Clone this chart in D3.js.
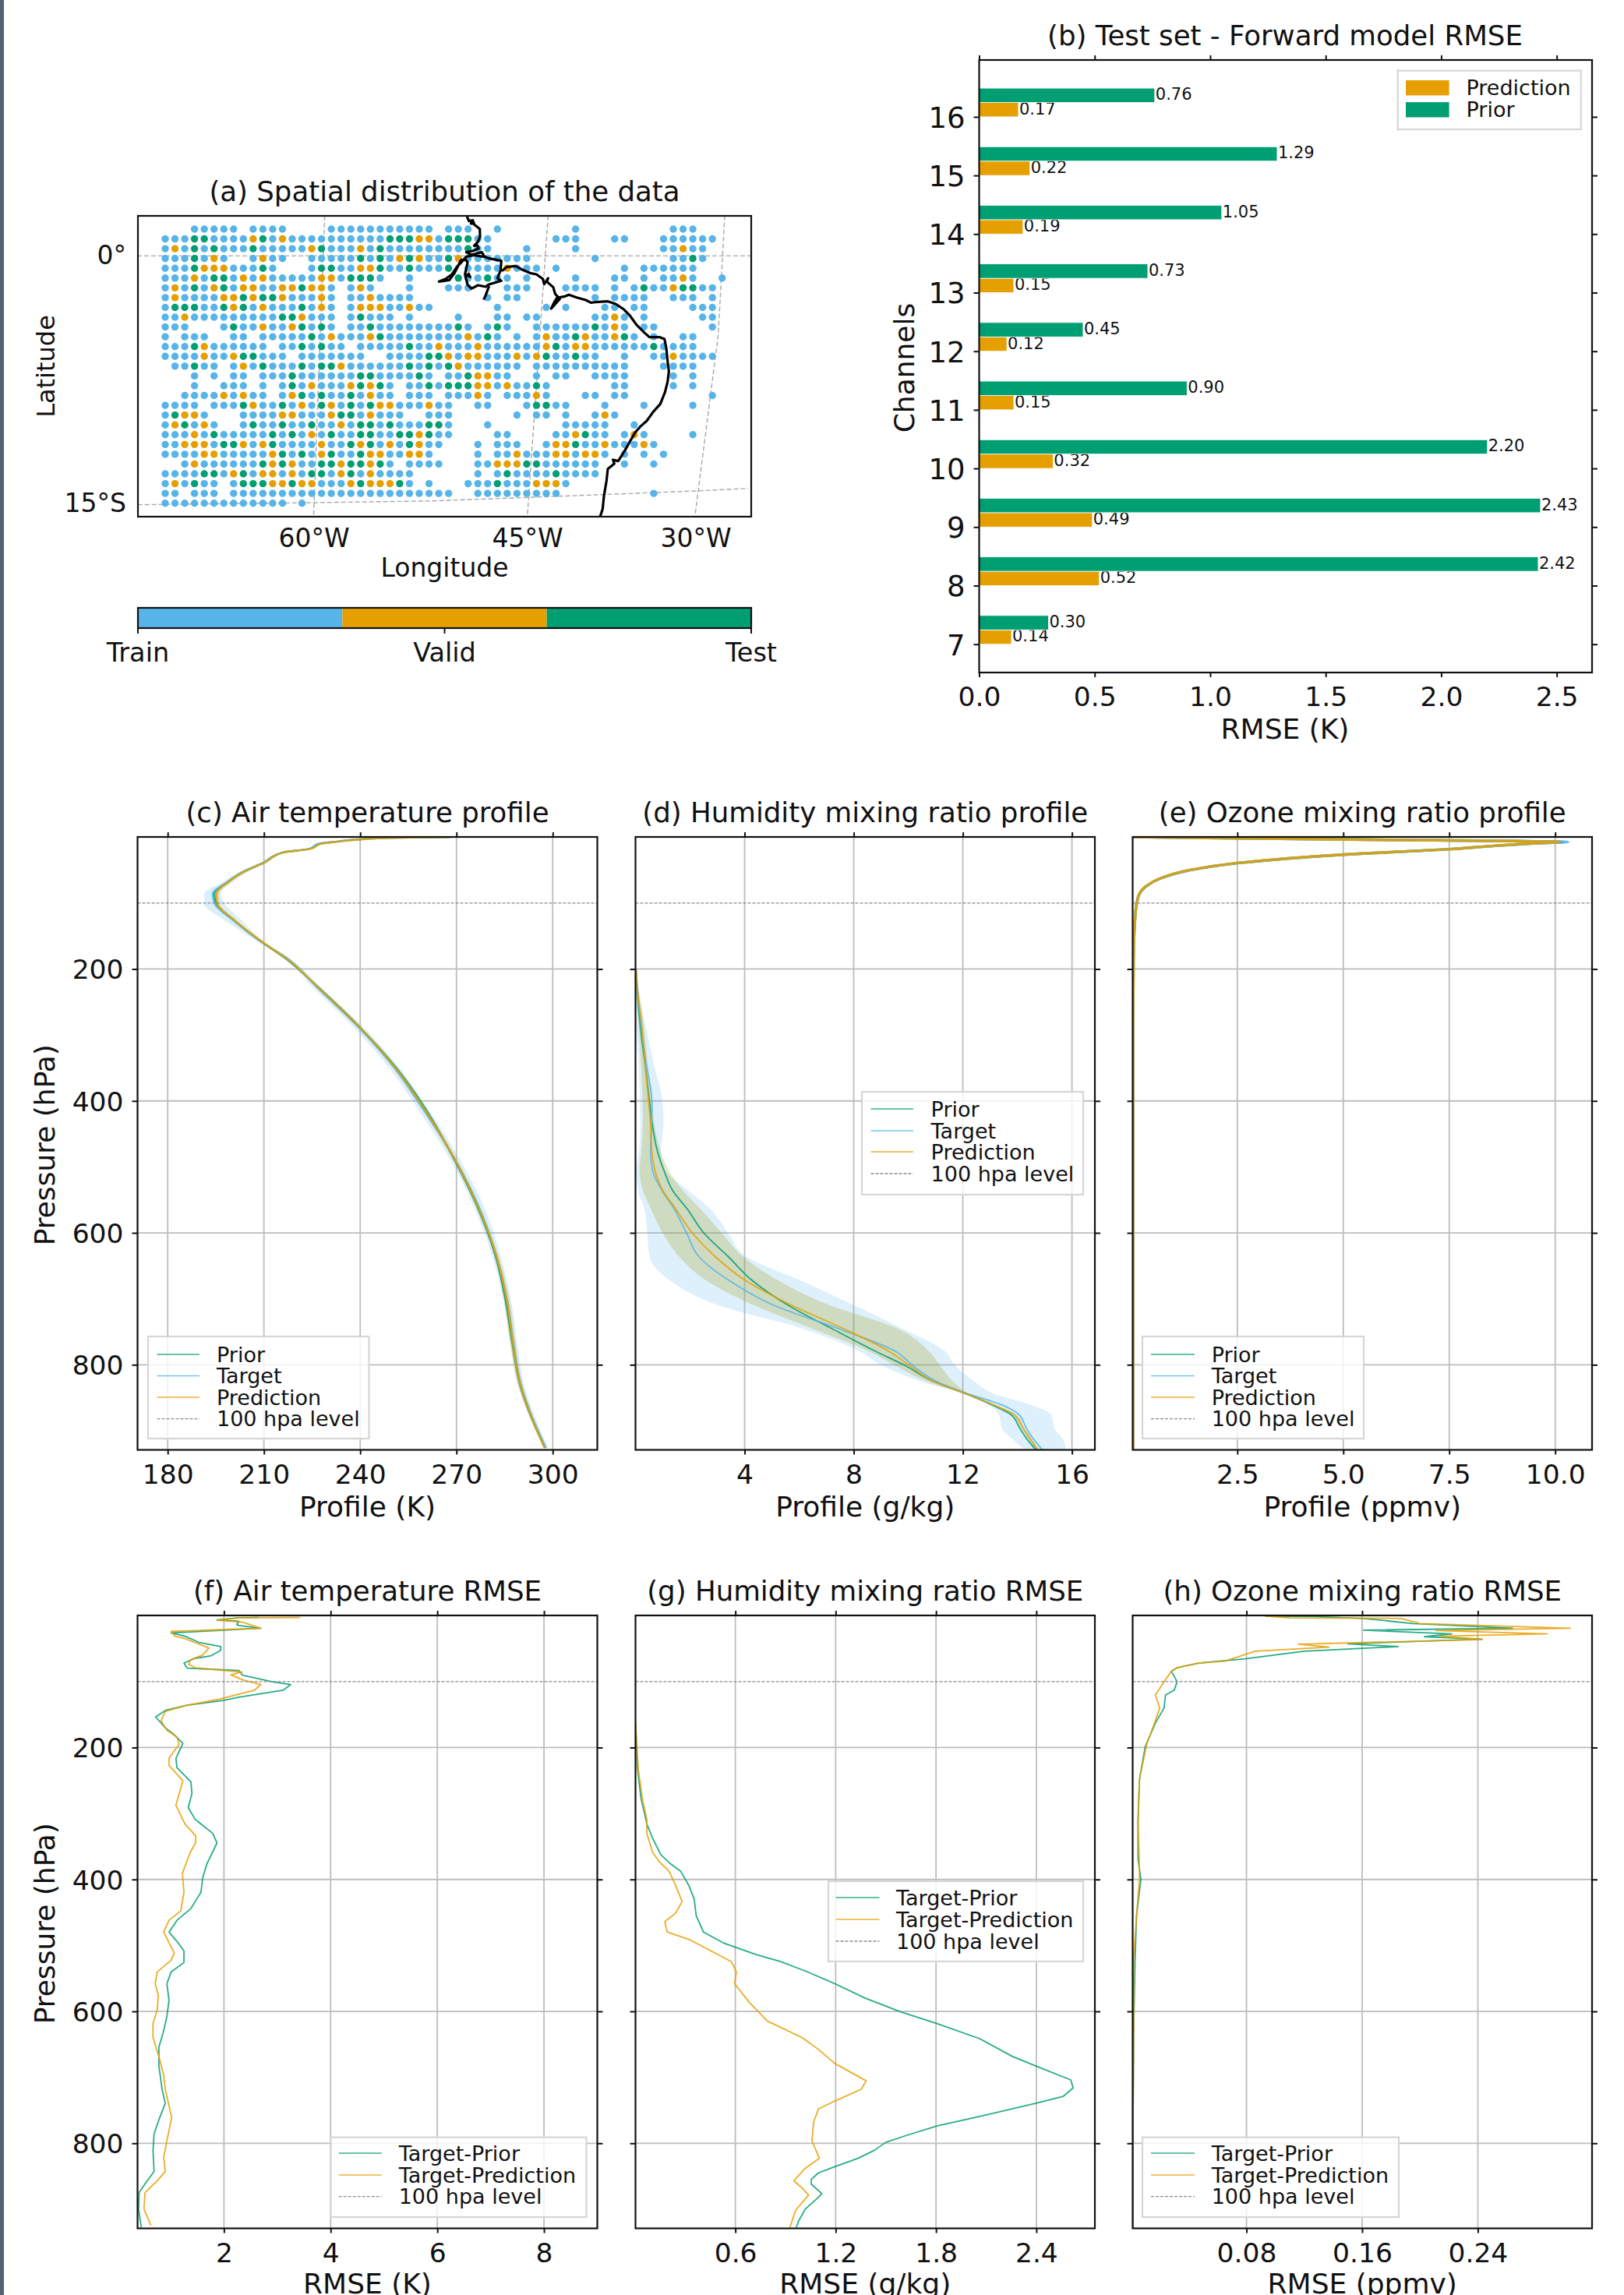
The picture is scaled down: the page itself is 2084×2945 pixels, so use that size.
<!DOCTYPE html>
<html><head><meta charset="utf-8">
<script src="https://cdn.jsdelivr.net/npm/d3@7/dist/d3.min.js"></script>
<style>html,body{margin:0;padding:0;background:#fff}svg{display:block}text{font-family:"DejaVu Sans",sans-serif;fill:#111}</style>
</head><body><script>
// ---------- palette
const GREEN="#009E73",BLUE="#56B4E9",ORANGE="#E69F00";
// ---------- (a) spatial split: one string per grid row, b=train o=valid g=test
const splitRows=[
"...bbbbb.bbbb....bbbbbbbbbbb.bbb..b.......b.........bbb...",
"bbbggbbbbogbobbbbbbbbbbgggoobgggbb......bbb...bb...bbbbbb.",
"bobgbgbbbgbbbbbogbbbobgbbbbbbbbgbb...b....b........bbobb..",
"bbbgbob..bobb..bbbbbgbgbogobbgobbbbbbb......b.......bbgb..",
"bbbgooobbbgb...bggbboogbbgbbbg.bbbbobbb.b......b.bbbbbb...",
"bbbobggbob"+"obbbbboobg"+"ggb..b...."+"gbbgbb.b.."+"..b...bb.b"+".bbob..b",
"bobgbogboo"+"bboogoob.b"+"ob...b...b"+"bb...bbb.."+".bbbb.b.bg"+"bboggbb.",
"bobbbboogo"+"ggobbbob.b"+"bobbbb...."+"...b.bb..."+"....b.bbbb"+"..bbb.b.",
"bgggbbgogb"+"obbbgbob.b"+"ooobbobb.."+"....b....b"+".b...bb.bb"+"....bbb.",
"bbobbbbbbb"+"bbggobbb.b"+"gbbb.b...."+"b...bb.bb."+"....bbob.b"+".....bb.",
"bbb...bgbb"+"obbogbgb.b"+"bgbbbbbbbb"+"gb.bgb..bb"+"bbbbgbob.b"+"b.....b.",
"b.bbb..bb."+"bbbbbgbobb"+"bogbbbbbbb"+"bobgb.b.bo"+"bbgobbogb."+"b..bb...",
"bbbgobbbbb"+"b.bbgbgbb."+"bbbbbgbbob"+"bbobbbbbbo"+"gboobbbbbb"+"gbbbb...",
"bbbbobbogg"+"bbb.bbbbbb"+"b..bbbbggo"+"boobbbobog"+"bbgbb..b.."+"bbobbbb.",
".bbgbb.bob"+"gbbbgbggob"+"bbbbbgbgbg"+"obbbbbb.bb"+"bbbbbbbb.."+".bbbb...",
"...b.b.bb."+"bbbgbbbbbb"+"ggbbbbgb.b"+"bgoobb..b."+"bb..bbbb.."+"..b.b...",
"...b..bbb."+"b.bgbobbbo"+"gogb.bbgbg"+"ggoobobbgb"+"......bb.."+"..b.b...",
"..bbbbobob"+"b.bogbgbbg"+"bobb.bbb.b"+"bbob.bbbob"+"...bb.bb.."+"......b.",
"bbbb.bbbgo"+"bbgbobgobg"+"bgoobbbobb"+"..bb...bgg"+"bb...b...b"+"....b...",
"bgoob...bb"+"bboobbbogg"+"bobbb..bbb"+"......b.bb"+".b..bob..."+"........",
"bogbob..bg"+"bbgbbgbbob"+"ggbgbbbggb"+"...b......"+".bbbbb..b."+"........",
"bbbobgbbbb"+"bgbgbobgbb"+"ggbbggogbb"+"....bb...."+"bbogbb.bob"+"....b...",
"bbooobggob"+"ogbbbbobbg"+"ogbobgobb."+"..b.bbb..b"+"oogbbobbbo"+"b.......",
"bbbboobbbb"+"bogbgbogbb"+"goobboob.."+"..b.bbobbb"+"ooboob.b.b"+".b......",
"..bobbbbbb"+"gogobbggog"+"gogb.bbbb."+"..bboooggb"+"bbbbb..b.."+"b.......",
"bbbbggbogb"+"oobobggbog"+"bobbbb...."+"..b.bgbbbb"+"gbbbb....."+"........",
"bobgbb.bgg"+"googoobbbo"+"gooogb.b.."+".bbbgbbboo"+"ob........"+"........",
"bb.bbb.bbb"+"bbbbbbbbbb"+"bbbbbbbbbb"+"..bbbbbbbb"+"b........."+"b.......",
"bbbbbbbbbb"+"bbb.b....."+".........."+".........."+".........."+"........"
];
const splitLabels=["Train","Valid","Test"];
// coastline and graticule digitised in map units
const coastMain=[[118,24],[125,41],[140,38],[145,51],[133,51],[135,44],[150,58],[167,71],[168,101],[160,121],[145,136],[157,134],[163,146],[140,156],[115,161],[135,171],[175,161],[185,178],[200,184],[250,194],[247,231],[235,261],[250,271],[200,286],[190,294],[160,288],[135,301],[120,286],[110,246],[120,201],[115,191],[95,191],[85,211],[70,241],[50,268],[10,274],[35,264],[60,246],[80,216],[95,201],[115,178],[145,172],[190,180]];
const coastDelta=[[110,246],[130,256],[122,240]];
const coastSpur=[[203,291],[190,326],[182,344]];
const coastEast=[[247,231],[255,231],[270,218],[305,214],[330,228],[360,241],[385,246],[410,264],[415,284],[430,261],[425,274],[450,296],[457,321],[475,341],[442,378],[455,351],[465,336],[495,331],[510,325],[540,335],[575,345],[595,355],[625,352],[660,350],[690,360],[720,380],[745,405],[770,440],[800,470],[820,488],[860,488],[878,495],[885,530],[890,580],[895,620],[890,660],[880,700],[862,745],[835,775],[810,810],[785,832],[765,855],[745,890],[725,925],[700,965],[680,960],[685,975],[660,995],[655,1040],[645,1100],[640,1150],[630,1180]];
const gratParallels=[[[-1152,175],[1210,175]],[[-1150,1133],[-470,1125],[0,1118],[350,1105],[1000,1080],[1200,1070]]];
const gratMeridians=[[[-430,20],[-473,1180]],[[430,20],[350,1180]],[[1110,20],[1085,480],[995,1180]]];
const mapLonLabels=["60°W","45°W","30°W"];
const mapLatLabels=["0°","15°S"];

// ---------- (b) forward model RMSE
const channels=[7,8,9,10,11,12,13,14,15,16];
const rmsePrediction=[0.14,0.52,0.49,0.32,0.15,0.12,0.15,0.19,0.22,0.17];
const rmsePrior=[0.30,2.42,2.43,2.20,0.90,0.45,0.73,1.05,1.29,0.76];

// ---------- (c) air temperature profile
const tempP=[0,1,4,7,10,18,23,39,52,68,86,101,126,159,184,228,289,354,405,495,557,637,702,767,832,868,926];
const tempPred=[269,251.6,239,233,228,224.4,216.3,210,204,199,195.2,195.5,200.8,209.5,217,226.9,239.9,251.6,259,270.2,276.4,282.6,285.7,287.6,290,292.5,297.5];
const tempPrior=[268,251,238.6,232.6,227.6,224,216,209.8,203.8,198.7,194.5,195.2,200.6,209.3,216.7,227,240,251.9,259.4,270,276.2,282.3,285.3,287.4,289.9,292.4,297.6];
const tempTarget=[268,250.5,238,232,227,224,216.2,209.9,203.9,198.8,194,194.6,200.4,209.2,217.3,226.6,239.6,251.3,258.6,270.3,276.7,282.6,285.8,287.8,290.2,292.7,297.9];
const tempTargetSd=[0.6,0.6,0.6,0.6,0.6,0.7,0.8,1.1,1.4,1.6,2.6,3.2,2.6,1.0,0.9,1.3,1.5,1.6,1.6,1.5,1.6,1.3,1.2,1.1,1.0,0.9,0.7];
const tempPredSd=[0.4,0.4,0.4,0.4,0.4,0.4,0.4,0.5,0.6,0.7,0.8,0.8,0.7,0.5,0.5,0.5,0.6,0.6,0.6,0.6,0.6,0.7,0.9,0.9,0.7,0.6,0.5];

// ---------- (d) humidity profile
const humP=[200,238,289,347,400,434,477,506,535,564,600,636,673,709,745,781,800,825,843,861,875,897,912,930];
const humPrior=[.02,.07,.18,.36,.51,.61,.81,1.05,1.35,1.90,2.50,3.40,4.30,5.56,7.19,8.87,9.83,10.91,12.05,13.08,13.74,14.10,14.34,14.70];
const humTarget=[.02,.09,.21,.41,.60,.59,.55,.63,.96,1.42,1.87,2.32,3.46,5.02,7.43,9.59,10.13,11.03,12.11,13.44,14.04,14.34,14.58,14.94];
const humPred=[.02,.09,.24,.36,.48,.55,.60,.72,.99,1.48,2.08,2.92,4.06,5.68,7.61,9.35,10.01,10.91,12.05,13.14,13.86,14.22,14.46,14.76];
const humTargetLo=[.02,.02,.04,.12,.16,.18,.13,.03,.09,.33,.43,.51,1.29,2.98,6.10,8.27,8.99,10.43,11.93,12.96,13.32,13.44,13.80,14.28];
const humTargetHi=[.02,.15,.39,.69,.99,1.03,.93,1.11,1.90,2.74,3.40,4.06,6.10,7.97,9.77,11.39,11.69,12.42,13.08,14.52,15.24,15.36,15.66,15.78];
const humPredLo=[.02,.04,.12,.21,.26,.27,.21,.15,.27,.57,.99,1.60,2.62,4.30,6.47,8.63,9.47,10.67,11.99,13.14,13.74,14.16,14.40,14.70];
const humPredHi=[.02,.13,.31,.45,.63,.69,.93,1.23,1.72,2.38,3.16,3.94,5.26,7.07,9.59,10.79,11.15,11.63,12.17,13.20,13.92,14.28,14.52,14.82];

// ---------- (e) ozone profile
const ozoneP=[0,3.7,7.4,9,13,18.3,26.3,39.3,50.2,63,75,85,99,130,188,300,500,700,929];
const ozonePred=[.05,5.2,10.1,9.6,8.6,7.52,5.03,2.5,1.36,.66,.33,.19,.13,.08,.05,.04,.04,.04,.04];
const ozonePrior=[.05,5.25,10.2,9.65,8.62,7.5,5.05,2.52,1.37,.67,.34,.2,.13,.08,.05,.04,.04,.04,.04];
const ozoneTarget=[.05,5.2,10.3,9.7,8.65,7.55,5.07,2.53,1.38,.67,.34,.2,.13,.08,.05,.04,.04,.04,.04];
const ozoneTargetSd=[0,.1,.15,.1,.08,.07,.06,.05,.05,.04,.03,.02,.02,.01,.01,.01,.01,.01,.01];

// ---------- (f) air temperature RMSE
const trmsePriorP=[2.8,3.6,6.4,8.5,13.5,15,19.2,26.3,31.3,40.6,47,52.7,61.2,64.8,71.9,79.7,83.3,90.4,100.4,104.6,113.2,123.8,128.8,135.9,143.8,153.7,170.1,181.5,193.6,216.4,230.6,252,269.8,291,308.9,330.2,344.5,376.5,397.9,419.2,444.1,461.9,479.7,494,508.2,526,540.2,558,582.9,607.8,632.7,654.1,682.6,718.1,739.5,764.4,785.8,810.7,842.7,856.9,874.7,899.6,928.1];
const trmsePrior=[2.65,2.25,1.87,2.28,2.24,2.28,2.69,1.01,1.27,1.53,1.94,1.94,1.75,1.46,1.25,1.31,2.28,2.35,2.91,3.25,3.11,2.28,1.98,1.31,.90,.72,.90,1.08,1.23,1.10,1.12,1.38,1.40,1.33,1.46,1.79,1.87,1.68,1.60,1.57,1.38,1.12,.97,1.12,1.25,1.25,1.01,.93,.97,.93,.86,.78,.78,.84,.90,.78,.69,.67,.69,.56,.41,.40,.45];
const trmsePredP=[2.8,3.6,7,10,19.2,24,31.3,34.9,42,49.1,59.8,66.9,74,79,84.7,85.6,89.7,97.5,104.6,113.2,127.4,135.9,145.2,159.4,173.7,184.3,195,216.4,227,250.5,287.5,316,333.8,344.5,358.7,390.7,419.2,447.7,461.9,479.7,511.7,522.4,540.2,558,575.8,597.2,618.5,639.9,668.3,696.8,718.1,760.9,796.4,821.3,842.7,856.9,874.7,899.6,924.6];
const trmsePred=[3.43,2.28,1.87,2.35,2.69,1.01,1.08,1.27,1.49,1.72,1.60,1.37,1.34,1.46,2.20,2.34,2.13,2.35,2.69,2.57,1.87,1.31,.90,.82,.93,1.12,1.16,.97,.97,1.23,1.10,1.27,1.47,1.47,1.37,1.22,1.25,1.19,.97,.87,1.07,1.01,.75,.71,.77,.75,.67,.67,.78,.87,.90,1.02,.93,.87,.90,.75,.52,.50,.63];

// ---------- (g) humidity RMSE
const hrmsePriorP=[163,234.2,276.9,316,337.4,362.3,376.5,387.2,408.5,429.9,454.8,479.7,496.1,513.9,524.6,538.8,558,579.4,600.7,618.5,641.3,668.3,682.6,703.9,716,728.8,739.5,759.4,773.7,789.3,798.6,810.7,822.8,835.6,844.8,854.8,861.9,876.2,881.9,899.6,917.4,928.1];
const hrmsePrior=[.003,.016,.036,.071,.105,.154,.213,.272,.321,.354,.366,.409,.527,.724,.871,1.019,1.195,1.372,1.588,1.805,2.06,2.257,2.394,2.606,2.62,2.561,2.394,2.06,1.805,1.608,1.50,1.431,1.333,1.195,1.097,1.054,1.054,1.117,1.097,1.019,.979,.964];
const hrmsePredP=[163,234.2,280.4,308.9,330.2,358.7,372.9,387.2,408.5,433.5,451.3,464.1,479.7,491.8,524.6,540.2,558,586.5,614.9,639.9,657.7,679,705.3,718.1,735.9,748,768,796.4,822.8,837.7,856.9,867.6,878.3,901.8,928.1];
const hrmsePred=[.003,.02,.046,.071,.071,.105,.144,.203,.242,.282,.242,.178,.193,.331,.576,.606,.596,.684,.793,1.0,1.097,1.195,1.382,1.353,1.195,1.097,1.068,1.058,1.103,1.019,.95,.999,1.038,.96,.926];

// ---------- (h) ozone RMSE
const ormsePriorP=[.7,1.4,4.3,12.1,12.6,19.2,22.1,27.8,32,35.6,42.7,47,54.1,65.5,71.9,79,84.7,91.8,100.4,113.2,120.3,140.2,163,198.6,248.4,312.5,369.4,399.3,454.8,518.9,625.6,796.4,928.1];
const ormsePrior=[.093,.127,.161,.195,.201,.264,.161,.222,.203,.243,.15,.185,.12,.079,.047,.032,.028,.03,.032,.03,.024,.023,.017,.01,.006,.005,.005,.007,.004,.003,.002,.0015,.0015];
const ormsePredP=[.7,3.5,4.3,12,19.2,22.8,27.8,31.3,36.3,43.4,47.7,54.1,61.9,69,71.9,79,84.7,100.4,120.3,140.2,159.4,195,248.4,312.5,369.4,399.3,454.8,518.9,625.6,796.4,928.1];
const ormsePred=[.093,.11,.187,.2,.304,.211,.288,.214,.243,.116,.137,.086,.075,.065,.047,.032,.028,.023,.017,.02,.017,.011,.006,.005,.0058,.006,.004,.002,.002,.0015,.0013];

// ---------- tick values
const pressureTicks=[200,400,600,800];
const tempTicks=[180,210,240,270,300];
const humTicks=[4,8,12,16];
const ozoneTicks=[2.5,5,7.5,10];
const trmseTicks=[2,4,6,8];
const hrmseTicks=[.6,1.2,1.8,2.4];
const ormseTicks=[.08,.16,.24];
const barTicks=[0,.5,1,1.5,2,2.5];

const W=2084,H=2945,TICK=34.5,LABEL=36,TITLE=35.6,LEG=27;
const svg=d3.select("body").append("svg").attr("width",W).attr("height",H).attr("viewBox",[0,0,W,H]);
svg.append("rect").attr("width",W).attr("height",H).attr("fill","#fff");
svg.append("rect").attr("width",5).attr("height",H).attr("fill","#566074");
let clipN=0;

function txt(g,x,y,s,size,anchor="middle",rot=null){
  const t=g.append("text").attr("x",x).attr("y",y).attr("font-size",size).attr("text-anchor",anchor).text(s);
  if(rot!==null)t.attr("transform",`rotate(${rot} ${x} ${y})`);
  return t;
}
function styleAxis(a){a.select(".domain").remove();a.selectAll("line").attr("stroke","#111").attr("stroke-width",2);}
function frame(g,b){g.append("rect").attr("x",b.l).attr("y",b.t).attr("width",b.r-b.l).attr("height",b.b-b.t).attr("fill","none").attr("stroke","#111").attr("stroke-width",2.2);}

function legend(g,box,items,lineX,textX,rowY){
  g.append("rect").attr("x",box[0]).attr("y",box[1]).attr("width",box[2]-box[0]).attr("height",box[3]-box[1]).attr("fill","#fff").attr("fill-opacity",.8).attr("stroke","#d6d6d6").attr("stroke-width",2.2);
  items.forEach((it,i)=>{
    g.append("line").attr("x1",lineX[0]).attr("x2",lineX[1]).attr("y1",rowY[i]).attr("y2",rowY[i]).attr("stroke",it.c).attr("stroke-width",it.dash?1.4:1.7).attr("stroke-opacity",it.dash?1:.8).attr("stroke-dasharray",it.dash?"4 2":null);
    txt(g,textX,rowY[i]+9.5,it.t,LEG,"start");
  });
}

const PRF=[{t:"Prior",c:GREEN},{t:"Target",c:BLUE},{t:"Prediction",c:ORANGE},{t:"100 hpa level",c:"#8a8a8a",dash:1}];
const ERR=[{t:"Target-Prior",c:GREEN},{t:"Target-Prediction",c:ORANGE},{t:"100 hpa level",c:"#8a8a8a",dash:1}];

function profilePanel(o){
  const b=o.box,g=svg.append("g");
  const x=d3.scaleLinear().domain(o.xd).range([b.l,b.r]);
  const y=d3.scaleLinear().domain([-0.2,929]).range([b.t,b.b]);
  const id="c"+(clipN++);
  svg.append("clipPath").attr("id",id).append("rect").attr("x",b.l).attr("y",b.t).attr("width",b.r-b.l).attr("height",b.b-b.t);
  // grid
  g.selectAll(".gx").data(o.xt).join("line").attr("x1",x).attr("x2",x).attr("y1",b.t).attr("y2",b.b).attr("stroke","#bdbdbd").attr("stroke-width",1.8);
  g.selectAll(".gy").data(pressureTicks).join("line").attr("y1",y).attr("y2",y).attr("x1",b.l).attr("x2",b.r).attr("stroke","#bdbdbd").attr("stroke-width",1.8);
  const p=g.append("g").attr("clip-path",`url(#${id})`);
  (o.bands||[]).forEach(bd=>{
    const area=d3.area().y(i=>y(bd.p[i])).x0(i=>x(bd.lo[i])).x1(i=>x(bd.hi[i])).curve(o.curve);
    p.append("path").attr("d",area(d3.range(bd.p.length))).attr("fill",bd.c).attr("fill-opacity",bd.a);
  });
  o.lines.forEach(l=>{
    const line=d3.line().y(i=>y(l.p[i])).x(i=>x(l.v[i])).curve(o.curve);
    p.append("path").attr("d",line(d3.range(l.p.length))).attr("fill","none").attr("stroke",l.c).attr("stroke-width",o.lw||1.8).attr("stroke-opacity",.85).attr("stroke-linejoin","round");
  });
  g.append("line").attr("x1",b.l).attr("x2",b.r).attr("y1",y(100)).attr("y2",y(100)).attr("stroke","#8a8a8a").attr("stroke-width",1.3).attr("stroke-dasharray","4 2");
  // axes
  const fmt=o.fmt;
  const ab=g.append("g").attr("transform",`translate(0,${b.b})`).call(d3.axisBottom(x).tickValues(o.xt).tickSize(6).tickPadding(0).tickFormat(fmt));
  const at=g.append("g").attr("transform",`translate(0,${b.t})`).call(d3.axisTop(x).tickValues(o.xt).tickSize(6).tickFormat(""));
  const al=g.append("g").attr("transform",`translate(${b.l},0)`).call(d3.axisLeft(y).tickValues(pressureTicks).tickSize(7).tickFormat(o.yl?d3.format("d"):""));
  const ar=g.append("g").attr("transform",`translate(${b.r},0)`).call(d3.axisRight(y).tickValues(pressureTicks).tickSize(7).tickFormat(""));
  [ab,at,al,ar].forEach(styleAxis);
  ab.selectAll("text").attr("font-size",TICK).attr("y",o.tickY).attr("dy",0);
  al.selectAll("text").attr("font-size",TICK).attr("x",-18).attr("dy","0.36em");
  [ab,al].forEach(a=>a.selectAll("text").attr("font-family",'"DejaVu Sans"').attr("fill","#111"));
  frame(g,b);
  txt(g,(b.l+b.r)/2,b.t-19.5,o.title,TITLE);
  txt(g,(b.l+b.r)/2,o.xlY,o.xl,LABEL);
  if(o.yl)txt(g,70,(b.t+b.b)/2+2,"Pressure (hPa)",LABEL,"middle",-90);
  legend(g,o.lg.box,o.lg.items,o.lg.lx,o.lg.tx,o.lg.rows);
}

const rowTop={t:1074,b:1860.5}, rowBot={t:2073,b:2859.5};
const colX=[{l:176.5,r:766.5},{l:815.5,r:1405},{l:1453.5,r:2043}];
const legTop=[1738,1765.5,1793,1820.6], legBot=[2763,2791,2818.6];
const linear=d3.curveLinear, smooth=d3.curveMonotoneY;
const sub=(a,b)=>a.map((v,i)=>v-b[i]), add=(a,b)=>a.map((v,i)=>v+b[i]);

profilePanel({box:{...colX[0],...rowTop},xd:[170.6,313.9],xt:tempTicks,fmt:d3.format("d"),title:"(c) Air temperature profile",xl:"Profile (K)",xlY:1946,tickY:43,yl:true,curve:smooth,lw:2.4,
  bands:[{p:tempP,lo:sub(tempTarget,tempTargetSd),hi:add(tempTarget,tempTargetSd),c:BLUE,a:.22},{p:tempP,lo:sub(tempPred,tempPredSd),hi:add(tempPred,tempPredSd),c:ORANGE,a:.25}],
  lines:[{p:tempP,v:tempPrior,c:GREEN},{p:tempP,v:tempTarget,c:BLUE},{p:tempP,v:tempPred,c:ORANGE}],
  lg:{box:[190,1715,473.5,1846],items:PRF,lx:[201.5,256],tx:278,rows:legTop}});
profilePanel({box:{...colX[1],...rowTop},xd:[0,16.84],xt:humTicks,fmt:d3.format("d"),title:"(d) Humidity mixing ratio profile",xl:"Profile (g/kg)",xlY:1946,tickY:43,curve:smooth,
  bands:[{p:humP,lo:humTargetLo,hi:humTargetHi,c:BLUE,a:.2},{p:humP,lo:humPredLo,hi:humPredHi,c:ORANGE,a:.2},{p:humP,lo:humPredLo,hi:humPredHi,c:GREEN,a:.07}],
  lines:[{p:humP,v:humPrior,c:GREEN},{p:humP,v:humTarget,c:BLUE},{p:humP,v:humPred,c:ORANGE}],
  lg:{box:[1106,1401,1390,1533],items:PRF,lx:[1117.5,1172],tx:1194.6,rows:[1423,1451,1478,1506]}});
profilePanel({box:{...colX[2],...rowTop},xd:[0.03,10.87],xt:ozoneTicks,fmt:d3.format(".1f"),title:"(e) Ozone mixing ratio profile",xl:"Profile (ppmv)",xlY:1946,tickY:43,curve:smooth,lw:3.4,
  bands:[{p:ozoneP,lo:sub(ozoneTarget,ozoneTargetSd),hi:add(ozoneTarget,ozoneTargetSd),c:BLUE,a:.3}],
  lines:[{p:ozoneP,v:ozonePrior,c:GREEN},{p:ozoneP,v:ozoneTarget,c:BLUE},{p:ozoneP,v:ozonePred,c:ORANGE}],
  lg:{box:[1466,1715,1750,1846],items:PRF,lx:[1477,1533],tx:1554.7,rows:legTop}});
profilePanel({box:{...colX[0],...rowBot},xd:[0.38,9.0],xt:trmseTicks,fmt:d3.format("d"),title:"(f) Air temperature RMSE",xl:"RMSE (K)",xlY:2943,tickY:43,yl:true,curve:linear,
  lines:[{p:trmsePriorP,v:trmsePrior,c:GREEN},{p:trmsePredP,v:trmsePred,c:ORANGE}],
  lg:{box:[424.5,2742.6,752.5,2845],items:ERR,lx:[434.7,489.8],tx:511.7,rows:legBot}});
profilePanel({box:{...colX[1],...rowBot},xd:[0.003,2.75],xt:hrmseTicks,fmt:d3.format(".1f"),title:"(g) Humidity mixing ratio RMSE",xl:"RMSE (g/kg)",xlY:2943,tickY:43,curve:linear,
  lines:[{p:hrmsePriorP,v:hrmsePrior,c:GREEN},{p:hrmsePredP,v:hrmsePred,c:ORANGE}],
  lg:{box:[1063,2414,1390,2517],items:ERR,lx:[1072.5,1128.5],tx:1150,rows:[2435,2463,2491]}});
profilePanel({box:{...colX[2],...rowBot},xd:[0.0013,0.319],xt:ormseTicks,fmt:d3.format(".2f"),title:"(h) Ozone mixing ratio RMSE",xl:"RMSE (ppmv)",xlY:2943,tickY:43,curve:linear,
  lines:[{p:ormsePriorP,v:ormsePrior,c:GREEN},{p:ormsePredP,v:ormsePred,c:ORANGE}],
  lg:{box:[1466,2742.6,1795,2845],items:ERR,lx:[1477,1533],tx:1554.7,rows:legBot}});

// ---------- (b) bars
(function(){
  const b={l:1256.5,r:2043,t:77,b:863},g=svg.append("g");
  const x=d3.scaleLinear().domain([0,2.653]).range([b.l,b.r]);
  const y=d3.scaleLinear().domain([6.517,16.97]).range([b.b,b.t]);
  const bh=y(7)-y(7.245);
  const put=(vals,offs,c)=>{
    g.selectAll(null).data(vals).join("rect").attr("x",x(0)).attr("width",d=>x(d)-x(0))
      .attr("y",(d,i)=>y(channels[i])-bh*(offs+1)).attr("height",bh).attr("fill",c).attr("stroke","#fff").attr("stroke-width",.8);
    g.selectAll(null).data(vals).join("text").attr("x",d=>x(d)+1).attr("y",(d,i)=>y(channels[i])-bh*(offs+.5)+6)
      .attr("font-size",21).text(d=>d.toFixed(2));
  };
  put(rmsePrediction,0,ORANGE);
  put(rmsePrior,1,GREEN);
  const ab=g.append("g").attr("transform",`translate(0,${b.b})`).call(d3.axisBottom(x).tickValues(barTicks).tickSize(6).tickFormat(d3.format(".1f")));
  const at=g.append("g").attr("transform",`translate(0,${b.t})`).call(d3.axisTop(x).tickValues(barTicks).tickSize(6).tickFormat(""));
  const al=g.append("g").attr("transform",`translate(${b.l},0)`).call(d3.axisLeft(y).tickValues(channels).tickSize(7).tickFormat(d3.format("d")));
  const ar=g.append("g").attr("transform",`translate(${b.r},0)`).call(d3.axisRight(y).tickValues(channels).tickSize(7).tickFormat(""));
  [ab,at,al,ar].forEach(styleAxis);
  ab.selectAll("text").attr("font-size",TICK).attr("y",43).attr("dy",0);
  al.selectAll("text").attr("font-size",37).attr("x",-18).attr("dy",".36em");
  [ab,al].forEach(a=>a.selectAll("text").attr("font-family",'"DejaVu Sans"').attr("fill","#111"));
  frame(g,b);
  txt(g,1649,58,"(b) Test set - Forward model RMSE",TITLE);
  txt(g,1649,948,"RMSE (K)",LABEL);
  txt(g,1173,472,"Channels",LABEL,"middle",-90);
  g.append("rect").attr("x",1793.7).attr("y",90.6).attr("width",235).attr("height",75.4).attr("fill","#fff").attr("fill-opacity",.8).attr("stroke","#d6d6d6").attr("stroke-width",2.2);
  [["Prediction",ORANGE,112.7],["Prior",GREEN,140.8]].forEach(d=>{
    g.append("rect").attr("x",1804).attr("y",d[2]-9.7).attr("width",55.6).attr("height",19.4).attr("fill",d[1]);
    txt(g,1881.5,d[2]+9.5,d[0],LEG,"start");
  });
})();

// ---------- (a) map
(function(){
  const b={l:177,r:964,t:277,b:663},g=svg.append("g");
  const col=d3.scaleLinear().domain([0,57]).range([212,926.7]);
  const row=d3.scaleLinear().domain([0,28]).range([294,645.7]);
  const mx=d3.scaleLinear().domain([0,1260]).range([560,980]);
  const my=d3.scaleLinear().domain([0,1200]).range([270,670]);
  const id="c"+(clipN++);
  svg.append("clipPath").attr("id",id).append("rect").attr("x",b.l).attr("y",b.t).attr("width",b.r-b.l).attr("height",b.b-b.t);
  const p=g.append("g").attr("clip-path",`url(#${id})`);
  const ln=d3.line().x(d=>mx(d[0])).y(d=>my(d[1]));
  gratParallels.concat(gratMeridians).forEach(l=>p.append("path").attr("d",ln(l)).attr("fill","none").attr("stroke","#a8a8a8").attr("stroke-width",1.4).attr("stroke-dasharray","6 3"));
  const colour={b:BLUE,o:ORANGE,g:GREEN};
  const dots=[];
  splitRows.forEach((s,r)=>[...s].forEach((ch,c)=>{if(ch!==".")dots.push({r,c,ch});}));
  p.selectAll("circle").data(dots).join("circle").attr("cx",d=>col(d.c)).attr("cy",d=>row(d.r)).attr("r",4.7).attr("fill",d=>colour[d.ch]);
  [coastMain,coastDelta,coastSpur,coastEast].forEach(l=>p.append("path").attr("d",ln(l)).attr("fill","none").attr("stroke","#000").attr("stroke-width",3.2).attr("stroke-linejoin","round"));
  frame(g,b);
  txt(g,570.5,258,"(a) Spatial distribution of the data",TITLE);
  mapLonLabels.forEach((s,i)=>txt(g,[403,677,893][i],702,s,33));
  mapLatLabels.forEach((s,i)=>txt(g,162,[339,657][i],s,33,"end"));
  txt(g,570.5,740,"Longitude",33);
  txt(g,70,470,"Latitude",32,"middle",-90);
  // colour bar
  const cb=d3.scaleLinear().domain([0,3]).range([177,964]);
  [BLUE,ORANGE,GREEN].forEach((c,i)=>g.append("rect").attr("x",cb(i)).attr("y",780).attr("width",cb(1)-cb(0)).attr("height",26).attr("fill",c));
  g.append("rect").attr("x",177).attr("y",780).attr("width",787).attr("height",26).attr("fill","none").attr("stroke","#111").attr("stroke-width",2.2);
  splitLabels.forEach((s,i)=>{
    const xx=cb(i*1.5);
    g.append("line").attr("x1",xx).attr("x2",xx).attr("y1",806).attr("y2",813).attr("stroke","#111").attr("stroke-width",2);
    txt(g,xx,849,s,33.5);
  });
})();
</script></body></html>
